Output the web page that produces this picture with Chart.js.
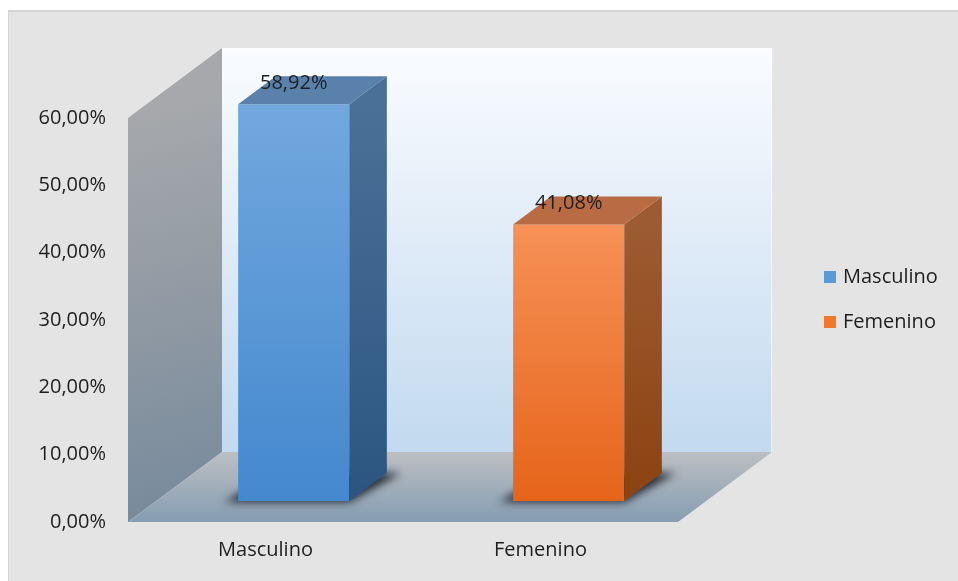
<!DOCTYPE html>
<html>
<head>
<meta charset="utf-8">
<script src="https://cdn.jsdelivr.net/npm/chart.js@4.4.0/dist/chart.umd.min.js"></script>
<style>
  body { margin: 0; background: #fff; }
</style>
</head>
<body>
<canvas id="genderChart" width="958" height="581"></canvas>
<script>
const categories = ['Masculino', 'Femenino'];
const percentages = [58.92, 41.08];
const yMax = 60;
const yStep = 10;

// colours of each bar's faces
const frontTop = ['#72a8de', '#f69157'];
const frontBottom = ['#4488ce', '#e6641a'];
const sideTop = ['#4b7098', '#9d5b31'];
const sideBottom = ['#2b5580', '#8c4211'];
const topFace = ['#5a81ab', '#b96c43'];
const legendColors = ['#5b9bd5', '#f0782a'];

// how deep the floor goes, and where the bars stand in it
const DX = 94, DY = -70;
const BAR_FRONT = 0.3, BAR_BACK = 0.7;

const FONT = '"Open Sans", sans-serif';
const TEXT = '#1e1e1e';

function pct(v) {
  return v.toFixed(2).replace('.', ',') + '%';
}

function poly(ctx, pts) {
  ctx.beginPath();
  ctx.moveTo(pts[0][0], pts[0][1]);
  for (let i = 1; i < pts.length; i++) ctx.lineTo(pts[i][0], pts[i][1]);
  ctx.closePath();
  ctx.fill();
}

function barBox(bar) {
  const p = bar.getProps(['x', 'y', 'base', 'width'], true);
  const left = p.x - p.width / 2 + DX * BAR_FRONT;
  const right = p.x + p.width / 2 + DX * BAR_FRONT;
  return {
    left, right,
    top: p.y + DY * BAR_FRONT,
    bottom: p.base + DY * BAR_FRONT,
    cx: p.x + DX * BAR_FRONT,
    dx: DX * (BAR_BACK - BAR_FRONT),
    dy: DY * (BAR_BACK - BAR_FRONT)
  };
}

const scene3d = {
  id: 'scene3d',
  beforeDraw(chart) {
    const ctx = chart.ctx;
    ctx.save();
    ctx.fillStyle = '#e4e4e4';
    ctx.fillRect(8, 11, chart.width - 8, chart.height - 11);
    ctx.fillStyle = '#d5d5d5';
    ctx.fillRect(8, 10, chart.width - 8, 2);
    ctx.fillRect(8, 10, 1, chart.height - 10);
    ctx.restore();
  },
  beforeDatasetsDraw(chart) {
    const ctx = chart.ctx;
    const a = chart.chartArea;
    const L = a.left, R = a.right, T = a.top, B = a.bottom;
    ctx.save();

    // back wall
    let g = ctx.createLinearGradient(0, T + DY, 0, B + DY);
    g.addColorStop(0, '#fafcff');
    g.addColorStop(1, '#c2d9ef');
    ctx.fillStyle = g;
    ctx.fillRect(L + DX, T + DY, R - L, B - T);
    ctx.fillStyle = 'rgba(255,255,255,0.6)';
    ctx.fillRect(R + DX - 1, T + DY, 1, B - T);

    // side wall
    g = ctx.createLinearGradient(L, T, L + DX, B);
    g.addColorStop(0, '#a6a8ab');
    g.addColorStop(1, '#76899b');
    ctx.fillStyle = g;
    poly(ctx, [[L, T], [L + DX, T + DY], [L + DX, B + DY], [L, B]]);

    // floor
    g = ctx.createLinearGradient(0, B + DY, 0, B);
    g.addColorStop(0, '#bcbfc2');
    g.addColorStop(1, '#869db2');
    ctx.fillStyle = g;
    poly(ctx, [[L, B], [R, B], [R + DX, B + DY], [L + DX, B + DY]]);

    // soft shadows under the bars
    ctx.filter = 'blur(4px)';
    ctx.fillStyle = 'rgba(20,25,35,0.9)';
    chart.getDatasetMeta(0).data.forEach(bar => {
      const b = barBox(bar);
      poly(ctx, [[b.left - 14, b.bottom + 1], [b.right, b.bottom + 1],
        [b.right + b.dx + 14, b.bottom + b.dy], [b.left + b.dx, b.bottom + b.dy]]);
    });
    ctx.filter = 'none';
    ctx.restore();

    // push the bar fronts back into the floor
    ctx.save();
    ctx.translate(DX * BAR_FRONT, DY * BAR_FRONT);
  },
  afterDatasetsDraw(chart) {
    const ctx = chart.ctx;
    ctx.restore();
    ctx.save();
    chart.getDatasetMeta(0).data.forEach((bar, i) => {
      const b = barBox(bar);
      // side
      const g = ctx.createLinearGradient(0, b.top, 0, b.bottom);
      g.addColorStop(0, sideTop[i]);
      g.addColorStop(1, sideBottom[i]);
      ctx.fillStyle = g;
      poly(ctx, [[b.right, b.top], [b.right + b.dx, b.top + b.dy],
        [b.right + b.dx, b.bottom + b.dy], [b.right, b.bottom]]);
      // top
      ctx.fillStyle = topFace[i];
      poly(ctx, [[b.left, b.top], [b.right, b.top],
        [b.right + b.dx, b.top + b.dy], [b.left + b.dx, b.top + b.dy]]);
      // value label
      ctx.fillStyle = TEXT;
      ctx.font = '20px ' + FONT;
      ctx.textAlign = 'center';
      ctx.textBaseline = 'alphabetic';
      ctx.fillText(pct(percentages[i]), b.cx, b.top - 15);
    });
    ctx.restore();
  },
  afterDraw(chart) {
    const ctx = chart.ctx;
    ctx.save();
    ctx.font = '20px ' + FONT;
    ctx.textBaseline = 'middle';
    ctx.textAlign = 'left';
    categories.forEach((name, i) => {
      const y = 277 + i * 45;
      ctx.fillStyle = legendColors[i];
      ctx.fillRect(824, y - 6, 12, 12);
      ctx.fillStyle = TEXT;
      ctx.fillText(name, 843, y);
    });
    ctx.restore();
  }
};

const ctx = document.getElementById('genderChart').getContext('2d');
new Chart(ctx, {
  type: 'bar',
  data: {
    labels: categories,
    datasets: [{
      label: 'Sexo',
      data: percentages,
      backgroundColor: c => {
        const chart = c.chart;
        if (!chart.chartArea || !chart.scales.y) return frontBottom[c.dataIndex];
        const y = chart.scales.y;
        const g = chart.ctx.createLinearGradient(0, y.getPixelForValue(c.raw), 0, y.getPixelForValue(0));
        g.addColorStop(0, frontTop[c.dataIndex]);
        g.addColorStop(1, frontBottom[c.dataIndex]);
        return g;
      },
      borderWidth: 0,
      barPercentage: 1,
      categoryPercentage: 0.404,
      clip: false
    }]
  },
  options: {
    responsive: false,
    animation: false,
    layout: { padding: { left: 0, top: 118, right: 280, bottom: 0 } },
    plugins: {
      legend: { display: false },
      tooltip: { enabled: false }
    },
    scales: {
      x: {
        grid: { display: false, drawTicks: false },
        border: { display: false },
        ticks: { color: TEXT, font: { family: FONT, size: 20 }, padding: 16 },
        afterFit: s => { s.height = 59; }
      },
      y: {
        min: 0,
        max: yMax,
        grid: { display: false, drawTicks: false },
        border: { display: false },
        ticks: {
          stepSize: yStep,
          color: TEXT,
          font: { family: FONT, size: 20 },
          padding: 22,
          callback: v => pct(v)
        },
        afterFit: s => { s.width = 128; }
      }
    }
  },
  plugins: [scene3d]
});
</script>
</body>
</html>
